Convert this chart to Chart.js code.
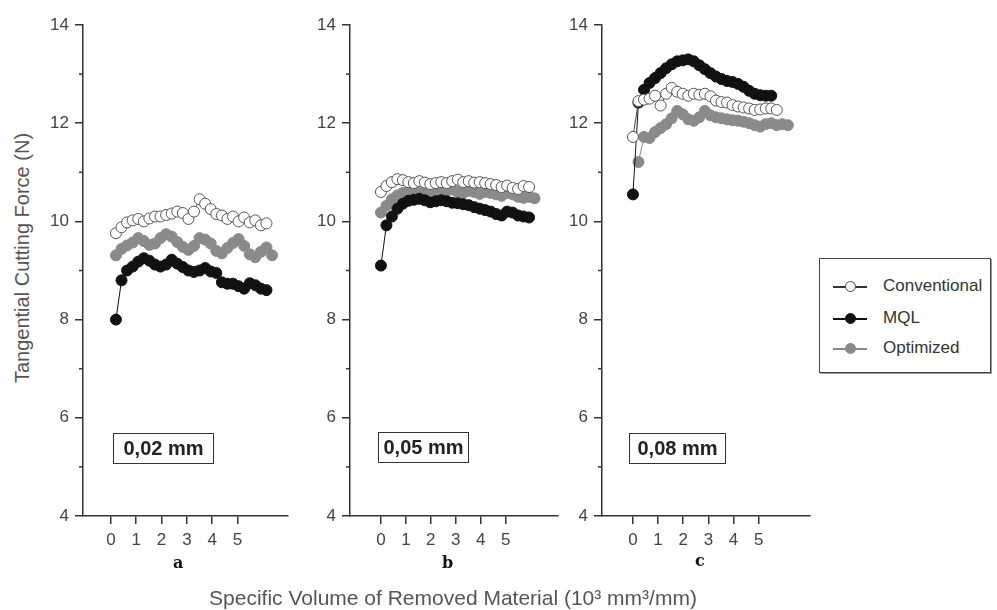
<!DOCTYPE html>
<html>
<head>
<meta charset="utf-8">
<script src="https://cdn.jsdelivr.net/npm/chart.js@4"></script>
<style>
  body { margin: 0; background: #fff; }
  #wrap { position: relative; width: 997px; height: 610px; overflow: hidden; font-family: "Liberation Sans", Arial, sans-serif; color: #444; }
  canvas { position: absolute; }
  .tag { position: absolute; height: 29px; border: 1.5px solid #333; font-weight: bold; font-size: 20px; color: #222; line-height: 29px; text-align: center; }
  .letter { position: absolute; font-family: "DejaVu Serif", serif; font-weight: bold; font-size: 16px; color: #111; }
  #ytitle { position: absolute; left: 22px; top: 258px; transform: translate(-50%, -50%) rotate(-90deg); white-space: nowrap; font-size: 20px; color: #555; }
  #xtitle { position: absolute; left: 453px; top: 598px; transform: translate(-50%, -50%); white-space: nowrap; font-size: 21px; color: #555; }
  #legend { position: absolute; left: 819px; top: 258px; width: 170px; height: 113px; border: 1.5px solid #444; box-shadow: 1px 1px 0 #999; }
  .entry { position: absolute; left: 0; width: 170px; height: 20px; }
  .entry .ln { position: absolute; left: 13px; top: 10px; width: 34px; height: 1.5px; }
  .entry .dot { position: absolute; left: 25px; top: 5px; width: 9px; height: 9px; border-radius: 50%; border: 1px solid; }
  .entry .txt { position: absolute; left: 63px; top: 0; font-size: 17px; line-height: 20px; color: #333; }
</style>
</head>
<body>
<div id="wrap">
  <canvas id="panelA" width="256" height="555" style="left:38px;top:5px"></canvas>
  <canvas id="panelB" width="259" height="555" style="left:305px;top:5px"></canvas>
  <canvas id="panelC" width="259" height="555" style="left:557px;top:5px"></canvas>

  <div class="tag" style="left:113px;top:433px;width:99px">0,02 mm</div>
  <div class="tag" style="left:378px;top:432px;width:89px">0,05 mm</div>
  <div class="tag" style="left:629px;top:433px;width:95px">0,08 mm</div>

  <div class="letter" style="left:173px;top:553px">a</div>
  <div class="letter" style="left:442px;top:553px">b</div>
  <div class="letter" style="left:695px;top:551px">c</div>

  <div id="ytitle">Tangential Cutting Force (N)</div>
  <div id="xtitle">Specific Volume of Removed Material (10³ mm³/mm)</div>

  <div id="legend">
    <div class="entry" style="top:17px"><span class="ln" style="background:#333"></span><span class="dot" style="background:#fff;border-color:#444"></span><span class="txt">Conventional</span></div>
    <div class="entry" style="top:49px"><span class="ln" style="background:#111"></span><span class="dot" style="background:#111;border-color:#111"></span><span class="txt">MQL</span></div>
    <div class="entry" style="top:79px"><span class="ln" style="background:#888"></span><span class="dot" style="background:#8a8a8a;border-color:#8a8a8a"></span><span class="txt">Optimized</span></div>
  </div>
</div>

<script>
// x positions of the samples (10^3 mm3/mm)
const xsA = [0.2, 0.42, 0.64, 0.86, 1.08, 1.3, 1.52, 1.74, 1.96, 2.18, 2.4, 2.62, 2.84, 3.06, 3.28, 3.5, 3.72, 3.94, 4.16, 4.38, 4.6, 4.82, 5.04, 5.26, 5.48, 5.7, 5.92, 6.14, 6.36, 6.58];
const xsBC = [0, 0.22, 0.44, 0.66, 0.88, 1.1, 1.32, 1.54, 1.76, 1.98, 2.2, 2.42, 2.64, 2.86, 3.08, 3.3, 3.52, 3.74, 3.96, 4.18, 4.4, 4.62, 4.84, 5.06, 5.28, 5.5, 5.72, 5.94, 6.16, 6.38];

// panel a - 0,02 mm
const convA = [9.76, 9.88, 9.98, 10.02, 10.05, 10.0, 10.06, 10.1, 10.1, 10.13, 10.16, 10.2, 10.17, 10.05, 10.2, 10.45, 10.36, 10.25, 10.15, 10.12, 10.05, 10.1, 10.0, 10.08, 9.98, 10.02, 9.92, 9.96];
const mqlA = [8.0, 8.8, 9.0, 9.08, 9.18, 9.25, 9.2, 9.12, 9.08, 9.12, 9.22, 9.14, 9.07, 9.0, 8.97, 9.0, 9.05, 8.98, 8.95, 8.76, 8.73, 8.73, 8.68, 8.63, 8.74, 8.7, 8.63, 8.6];
const optA = [9.31, 9.44, 9.51, 9.57, 9.66, 9.6, 9.52, 9.55, 9.66, 9.74, 9.69, 9.58, 9.48, 9.42, 9.5, 9.66, 9.63, 9.55, 9.4, 9.35, 9.46, 9.56, 9.64, 9.5, 9.33, 9.27, 9.38, 9.47, 9.31];

// panel b - 0,05 mm
const convB = [10.6, 10.72, 10.8, 10.86, 10.84, 10.8, 10.78, 10.82, 10.79, 10.76, 10.78, 10.8, 10.78, 10.82, 10.85, 10.8, 10.82, 10.79, 10.8, 10.78, 10.76, 10.74, 10.7, 10.73, 10.68, 10.66, 10.72, 10.7];
const mqlB = [9.1, 9.92, 10.1, 10.26, 10.36, 10.42, 10.44, 10.46, 10.43, 10.39, 10.41, 10.43, 10.41, 10.38, 10.37, 10.35, 10.33, 10.29, 10.26, 10.23, 10.2, 10.15, 10.12, 10.2, 10.18, 10.12, 10.1, 10.08];
const optB = [10.18, 10.32, 10.45, 10.53, 10.58, 10.6, 10.62, 10.58, 10.6, 10.63, 10.6, 10.57, 10.62, 10.65, 10.6, 10.58, 10.62, 10.6, 10.56, 10.6, 10.58, 10.55, 10.52, 10.58, 10.55, 10.5, 10.48, 10.5, 10.47];

// panel c - 0,08 mm
const convC = [11.72, 12.45, 12.48, 12.5, 12.56, 12.36, 12.6, 12.72, 12.64, 12.6, 12.56, 12.6, 12.58, 12.6, 12.55, 12.46, 12.43, 12.42, 12.37, 12.34, 12.32, 12.3, 12.27, 12.28, 12.3, 12.3, 12.27];
const mqlC = [10.55, 12.42, 12.68, 12.82, 12.92, 13.02, 13.12, 13.2, 13.26, 13.28, 13.3, 13.26, 13.18, 13.1, 13.02, 12.95, 12.9, 12.86, 12.84, 12.8, 12.74, 12.66, 12.6, 12.57, 12.56, 12.56];
const optC = [null, 11.21, 11.72, 11.7, 11.82, 11.9, 11.98, 12.1, 12.25, 12.18, 12.08, 12.05, 12.12, 12.25, 12.16, 12.12, 12.1, 12.08, 12.06, 12.05, 12.03, 12.0, 11.96, 11.93, 11.98, 12.0, 11.96, 11.98, 11.96];

const xTickValues = [0, 1, 2, 3, 4, 5];
const minorY = [5, 7, 9, 11, 13];

function toPoints(xs, ys) {
    return ys.map((y, i) => ({ x: xs[i], y: y }));
}

// short ticks at the odd force values
const minorTicks = {
    id: 'minorTicks',
    afterDraw(chart) {
        const ctx = chart.ctx;
        const yScale = chart.scales.y;
        const left = chart.chartArea.left;
        ctx.save();
        ctx.strokeStyle = '#333';
        ctx.lineWidth = 1.5;
        minorY.forEach((v) => {
            const y = yScale.getPixelForValue(v);
            ctx.beginPath();
            ctx.moveTo(left - 4, y);
            ctx.lineTo(left, y);
            ctx.stroke();
        });
        ctx.restore();
    },
};

function makePanel(id, xs, conv, mql, opt, xMin, xMax) {
    const ctx = document.getElementById(id).getContext('2d');
    return new Chart(ctx, {
        type: 'scatter',
        data: {
            datasets: [
                {
                    label: 'Conventional',
                    data: toPoints(xs, conv),
                    showLine: true,
                    borderColor: '#444',
                    borderWidth: 1,
                    pointRadius: 5.5,
                    pointBorderWidth: 1,
                    pointBackgroundColor: '#fff',
                    pointBorderColor: '#555',
                },
                {
                    label: 'MQL',
                    data: toPoints(xs, mql),
                    showLine: true,
                    borderColor: '#111',
                    borderWidth: 1,
                    pointRadius: 5.5,
                    pointBorderWidth: 1,
                    pointBackgroundColor: '#111',
                    pointBorderColor: '#111',
                },
                {
                    label: 'Optimized',
                    data: toPoints(xs, opt),
                    showLine: true,
                    borderColor: '#888',
                    borderWidth: 1,
                    pointRadius: 5.5,
                    pointBorderWidth: 1,
                    pointBackgroundColor: '#8a8a8a',
                    pointBorderColor: '#8a8a8a',
                },
            ],
        },
        options: {
            responsive: false,
            animation: false,
            events: [],
            layout: { padding: { left: 0, right: 6, top: 20, bottom: 4 } },
            plugins: {
                legend: { display: false },
                tooltip: { enabled: false },
            },
            scales: {
                x: {
                    type: 'linear',
                    min: xMin,
                    max: xMax,
                    afterBuildTicks: (scale) => {
                        scale.ticks = xTickValues.map((v) => ({ value: v }));
                    },
                    afterFit: (scale) => {
                        scale.height = 40;
                    },
                    border: { display: true, color: '#333', width: 1.5 },
                    grid: { drawOnChartArea: false, drawTicks: true, tickLength: 8, color: '#333', lineWidth: 1.5 },
                    ticks: {
                        padding: 6,
                        color: '#444',
                        font: { family: 'Liberation Sans', size: 17 },
                    },
                },
                y: {
                    min: 4,
                    max: 14,
                    afterFit: (scale) => {
                        scale.width = 45;
                    },
                    border: { display: true, color: '#333', width: 1.5 },
                    grid: { drawOnChartArea: false, drawTicks: true, tickLength: 8, color: '#333', lineWidth: 1.5 },
                    ticks: {
                        stepSize: 2,
                        padding: 6,
                        color: '#444',
                        font: { family: 'Liberation Sans', size: 17 },
                    },
                },
            },
        },
        plugins: [minorTicks],
    });
}

makePanel('panelA', xsA, convA, mqlA, optA, -1.1, 6.97);
makePanel('panelB', xsBC, convB, mqlB, optB, -1.24, 7.08);
makePanel('panelC', xsBC, convC, mqlC, optC, -1.23, 7.02);
</script>
</body>
</html>
